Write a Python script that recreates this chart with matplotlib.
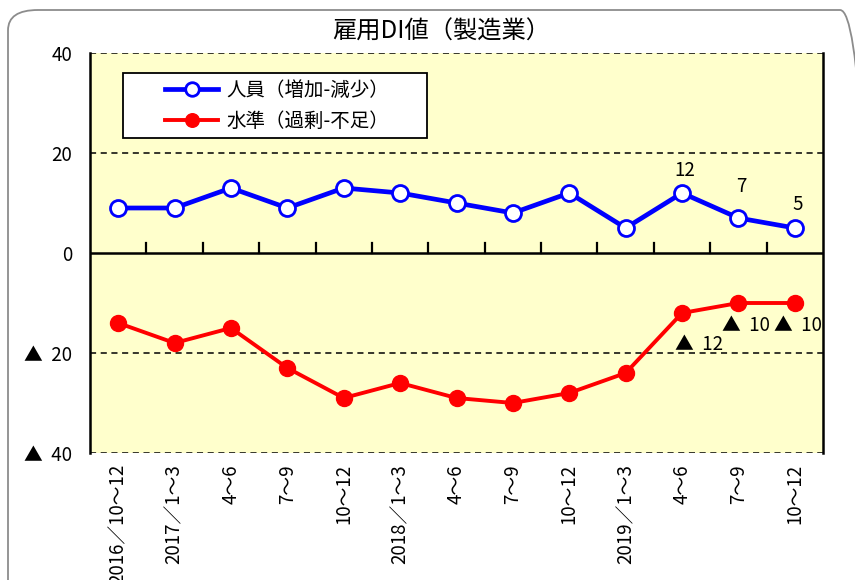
import matplotlib
matplotlib.use('Agg')
import matplotlib.pyplot as plt
from matplotlib.patches import FancyBboxPatch, Rectangle

plt.rcParams['font.family'] = ['Noto Sans CJK JP', 'DejaVu Sans']

# 四半期ラベルと各系列の値
periods = ['2016／10～12', '2017／1～3', '4～6', '7～9', '10～12', '2018／1～3',
           '4～6', '7～9', '10～12', '2019／1～3', '4～6', '7～9', '10～12']
jinin = [9, 9, 13, 9, 13, 12, 10, 8, 12, 5, 12, 7, 5]          # 人員（増加-減少）
suijun = [-14, -18, -15, -23, -29, -26, -29, -30, -28, -24, -12, -10, -10]  # 水準（過剰-不足）
y_ticks = [40, 20, 0, -20, -40]
y_labels = ['40', '20', '0', '▲  20', '▲  40']

fig = plt.figure(figsize=(8.55, 5.80), dpi=100)

# 外枠（角丸）
frame = FancyBboxPatch((8 / 855, -30 / 580), 862 / 855, 600 / 580,
                       boxstyle='round,pad=0,rounding_size=0.035',
                       transform=fig.transFigure, facecolor='none',
                       edgecolor='#8c8c8c', linewidth=1.3, zorder=-5)
fig.patches.append(frame)

ax = fig.add_axes([90 / 855, 127 / 580, 733 / 855, 400 / 580])
ax.set_facecolor('#ffffcc')

x = list(range(len(periods)))
ax.plot(x, jinin, color='#0000ff', lw=3.4, marker='o', ms=11.5,
        mfc='white', mec='#0000ff', mew=2, label='人員（増加-減少）', zorder=4)
ax.plot(x, suijun, color='#ff0000', lw=2.8, marker='o', ms=11.5,
        mfc='#ff0000', mec='#ff0000', label='水準（過剰-不足）', zorder=4)

ax.set_xlim(-0.5, len(periods) - 0.5)
ax.set_ylim(-40, 40)

# 補助線
for v in (20, -20, 40, -40):
    ax.axhline(v, color='black', lw=1.1, ls=(0, (4, 3)), zorder=2)
ax.axhline(0, color='black', lw=1.8, zorder=3)
for s in ('top', 'bottom'):
    ax.spines[s].set_visible(False)
for s in ('left', 'right'):
    ax.spines[s].set_linewidth(1.8)

# 区切り目盛（0ライン上）
for b in range(1, len(periods)):
    ax.plot([b - 0.5, b - 0.5], [0, 2], color='black', lw=1.6, zorder=3)

ax.set_yticks(y_ticks)
ax.set_yticklabels(y_labels, fontsize=13.5)
ax.tick_params(axis='y', length=0, pad=13)
ax.set_xticks(x)
ax.set_xticklabels(periods, rotation=90, fontsize=13.5, va='top')
ax.tick_params(axis='x', length=0, pad=8)

# データラベル
label_up = {10: 4.6, 11: 6.4, 12: 4.8}
for i, dy in label_up.items():
    ax.text(i + 0.05, jinin[i] + dy, str(jinin[i]), ha='center', va='center', fontsize=13.5)
ax.text(10.3, suijun[10] - 6.2, '▲  12', ha='center', va='center', fontsize=13.5)
for i, dx in ((11, 0.13), (12, 0.06)):
    ax.text(i + dx, suijun[i] - 4.5, '▲  10', ha='center', va='center', fontsize=13.5)

# 凡例（枠は別に描く）
ax.add_patch(Rectangle((0.0450, 0.7875), 0.4148, 0.1625, transform=ax.transAxes,
                       facecolor='white', edgecolor='black', lw=1.3, zorder=5))
leg = ax.legend(loc='center left', bbox_to_anchor=(0.1023, 0.8675), fontsize=14,
                frameon=False, handlelength=2.75, borderpad=0, borderaxespad=0,
                labelspacing=0.5, handletextpad=0.4, markerscale=0.85)
leg.set_zorder(6)

fig.text(441 / 855, 1 - 32 / 580, '雇用DI値（製造業）', ha='center', va='center', fontsize=17.5)

fig.savefig('out.png', dpi=100)
